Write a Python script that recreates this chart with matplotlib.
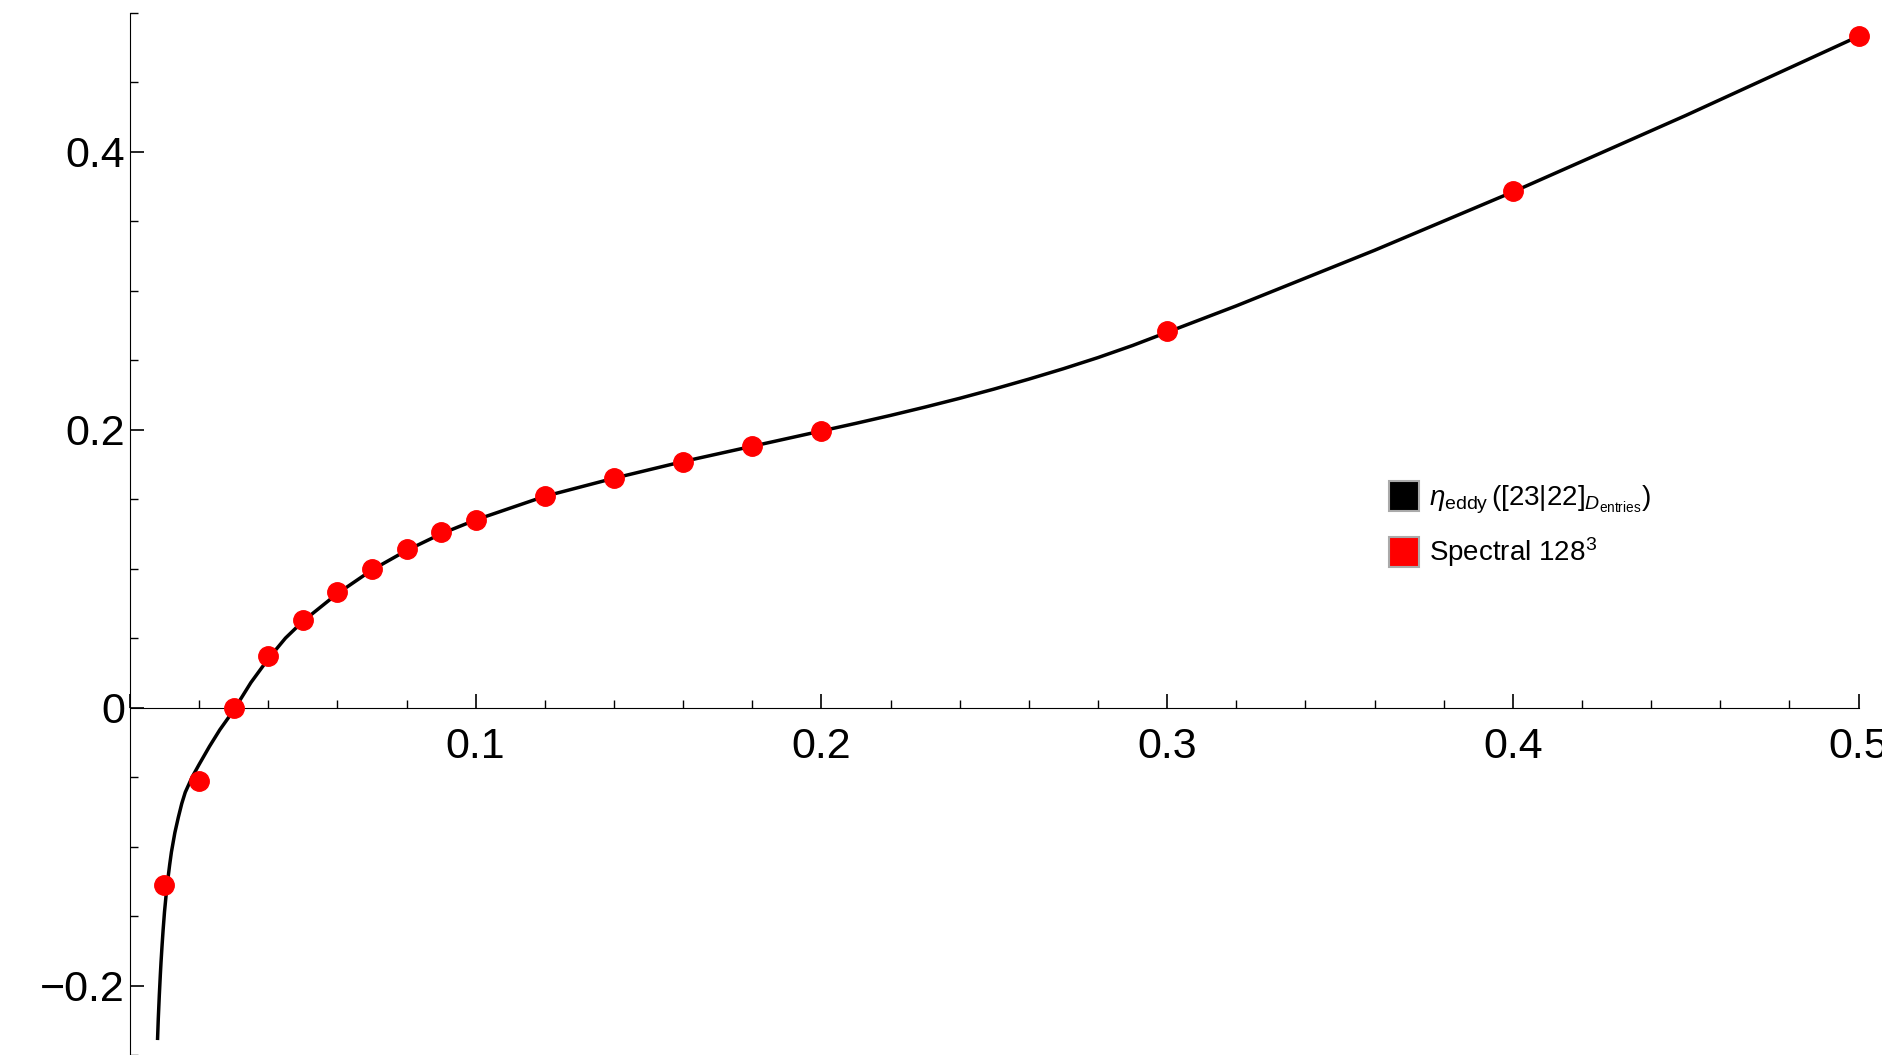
import matplotlib
matplotlib.use("Agg")
import matplotlib.pyplot as plt
from matplotlib.ticker import MultipleLocator, FuncFormatter
from matplotlib.lines import Line2D

plt.rcParams['font.family'] = ['Liberation Sans', 'DejaVu Sans']
plt.rcParams['mathtext.fontset'] = 'custom'
plt.rcParams['mathtext.rm'] = 'Liberation Sans'
plt.rcParams['mathtext.it'] = 'Liberation Sans:italic'

pts_x = [0.01,0.02,0.03,0.04,0.05,0.06,0.07,0.08,0.09,0.1,0.12,0.14,0.16,0.18,0.2,0.3,0.4,0.5]
pts_y = [-0.128,-0.053,0.0,0.037,0.063,0.083,0.100,0.114,0.126,0.135,0.152,0.165,0.177,0.188,0.199,0.271,0.372,0.483]

curve_x = [0.008,0.0082,0.0085,0.0088,0.009,0.0093,0.0096,0.010,0.0105,0.011,0.0115,0.012,0.013,0.014,0.015,0.016,0.018,0.020,0.023,0.026,0.030,0.035,0.040,0.045,0.050,0.060,0.070,0.080,0.090,0.100,0.120,0.140,0.160,0.180,0.200,0.210,0.220,0.230,0.240,0.250,0.260,0.270,0.280,0.290,0.300,0.320,0.340,0.360,0.380,0.400,0.450,0.500]
curve_y = [-0.238,-0.224,-0.207,-0.192,-0.183,-0.171,-0.160,-0.147,-0.134,-0.123,-0.113,-0.104,-0.090,-0.079,-0.069,-0.061,-0.050,-0.041,-0.028,-0.016,-0.002,0.018,0.035,0.050,0.062,0.082,0.099,0.113,0.125,0.135,0.152,0.165,0.177,0.188,0.199,0.2045,0.2102,0.2162,0.2225,0.2292,0.2363,0.2438,0.2518,0.2605,0.270,0.289,0.309,0.329,0.350,0.371,0.426,0.483]

fig = plt.figure(figsize=(18.83,10.55), dpi=100)
ax = fig.add_axes([0.069,0.0,0.918,0.988])
ax.plot(curve_x, curve_y, color='black', lw=2.5, zorder=2, solid_joinstyle='round')
ax.plot(pts_x, pts_y, 'o', color='red', ms=14, zorder=3, clip_on=False)
ax.set_xlim(0,0.5)
ax.set_ylim(-0.25,0.5)
for s in ['top','right']:
    ax.spines[s].set_visible(False)
ax.spines['bottom'].set_position(('data',0))
ax.spines['left'].set_position(('data',0))
ax.xaxis.set_major_locator(MultipleLocator(0.1))
ax.xaxis.set_minor_locator(MultipleLocator(0.02))
ax.yaxis.set_major_locator(MultipleLocator(0.2))
ax.yaxis.set_minor_locator(MultipleLocator(0.05))
fmt = FuncFormatter(lambda v,p: '0' if abs(v)<1e-9 else ('%.1f' % v).replace('-', '\u2212'))
ax.yaxis.set_major_formatter(fmt)
ax.xaxis.set_major_formatter(FuncFormatter(lambda v,p: '' if abs(v)<1e-9 else '%.1f' % v))
ax.tick_params(which='major', length=10, width=1.2, labelsize=31, direction='in')
ax.tick_params(which='minor', length=6, width=1, direction='in')
ax.tick_params(axis='x', pad=14)
for lab in ax.get_xticklabels():
    lab.set_clip_on(False)

handles = [Line2D([],[],ls='none',marker='s',ms=22,mfc='black',mec='#aaaaaa',mew=1.5),
           Line2D([],[],ls='none',marker='s',ms=22,mfc='red',mec='#aaaaaa',mew=1.5)]
labels = [r'$\eta_{\mathrm{eddy}}\,(\mathrm{[23|22]}_{D_{\mathrm{entries}}})$', r'Spectral $128^3$']
fig.legend(handles, labels, loc='upper left', bbox_to_anchor=(0.725,0.565), frameon=False,
           fontsize=20, handletextpad=0.4, labelspacing=0.7, handlelength=1.0)
fig.savefig('out.png', dpi=100)
